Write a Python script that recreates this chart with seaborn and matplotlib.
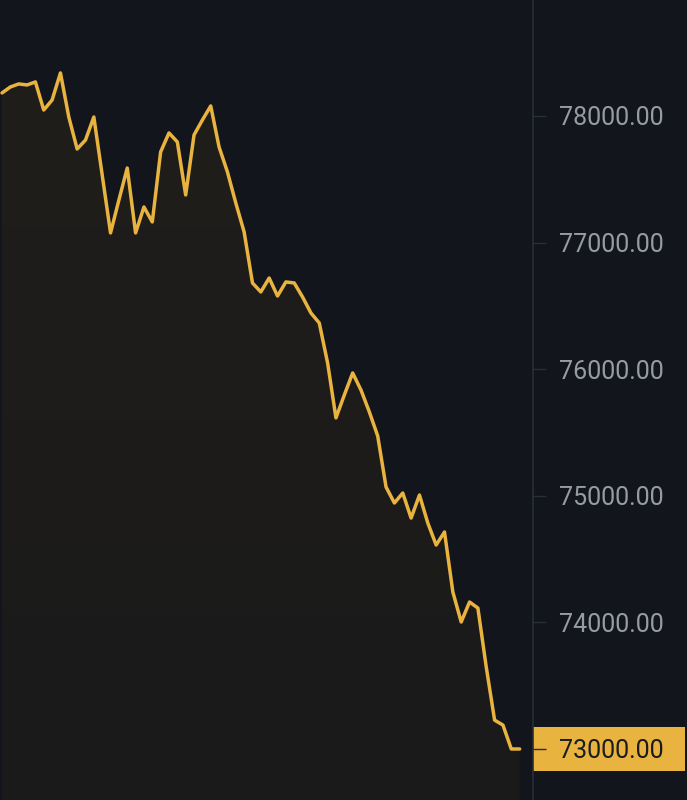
import numpy as np
import pandas as pd
import matplotlib
matplotlib.use('Agg')
import matplotlib.pyplot as plt
import matplotlib.transforms as mtransforms
from matplotlib.patches import Rectangle
import seaborn as sns

# price series (one point per candle)
prices = [78182, 78229, 78253, 78245, 78269, 78047, 78126, 78340, 77992, 77739,
          77810, 77992, 77534, 77076, 77336, 77589, 77076, 77281, 77163, 77716,
          77866, 77795, 77376, 77850, 77968, 78079, 77755, 77558, 77313, 77084,
          76681, 76610, 76720, 76578, 76689, 76681, 76570, 76444, 76365, 76049,
          75615, 75796, 75970, 75835, 75662, 75472, 75069, 74943, 75022, 74824,
          75006, 74785, 74611, 74714, 74240, 74003, 74161, 74113, 73647, 73228,
          73189, 73000, 73000]
tick_values = [73000, 74000, 75000, 76000, 77000, 78000]
last_price = 73000

df = pd.DataFrame({'i': np.arange(len(prices)), 'price': prices})

BG = '#12151c'
YELLOW = '#e9b33f'
GRID = '#2a2e36'
LABEL = '#979ba3'

sns.set_style('dark')
plt.rcParams['font.family'] = ['Roboto', 'DejaVu Sans']

fig = plt.figure(figsize=(6.87, 8.0), dpi=100, facecolor=BG)
ax = fig.add_axes([0, 0, 533 / 687, 1])
ax.set_facecolor(BG)

ylo, yhi = 72597, 78916
ax.set_xlim(-0.24, 63.6)
ax.set_ylim(ylo, yhi)

# gradient fill under the line
fill = ax.fill_between(df['i'], df['price'], ylo, color='none', lw=0)
grad = np.linspace(0, 1, 256).reshape(-1, 1)
top = np.array([0.125, 0.117, 0.102])
bot = np.array([0.102, 0.102, 0.106])
img = top * (1 - grad[..., None]) + bot * grad[..., None]
im = ax.imshow(img, extent=[-0.24, 63.6, ylo, 78400], origin='upper',
               aspect='auto', zorder=1)
im.set_clip_path(fill.get_paths()[0], transform=ax.transData)

sns.lineplot(data=df, x='i', y='price', color=YELLOW, lw=2.5, ax=ax, zorder=3)

ax.set_xlabel('')
ax.set_ylabel('')
ax.set_xticks([])
ax.yaxis.tick_right()
ax.set_yticks(tick_values)
ax.set_yticklabels([f'{v:.2f}' for v in tick_values])
ax.tick_params(axis='y', length=9, width=1, color=GRID, labelcolor=LABEL,
               labelsize=18, pad=10, right=True, left=False)
ax.grid(False)
for s in ['top', 'left', 'bottom']:
    ax.spines[s].set_visible(False)
ax.spines['right'].set_color(GRID)
ax.spines['right'].set_linewidth(1.2)

# last price marker box, drawn beneath the tick label
trans = mtransforms.blended_transform_factory(fig.transFigure, ax.transData)
box_h = 44 * (yhi - ylo) / 800
ax.add_patch(Rectangle((533 / 687, last_price - box_h / 2), 152 / 687, box_h,
                       transform=trans, facecolor=YELLOW, edgecolor='none',
                       clip_on=False, zorder=0.5))
for lab, v in zip(ax.get_yticklabels(), tick_values):
    if v == last_price:
        lab.set_color('#1a1c22')
for t, v in zip(ax.yaxis.get_major_ticks(), tick_values):
    if v == last_price:
        t.tick2line.set_color('#1a1c22')

fig.savefig('out.png', dpi=100, facecolor=BG)
